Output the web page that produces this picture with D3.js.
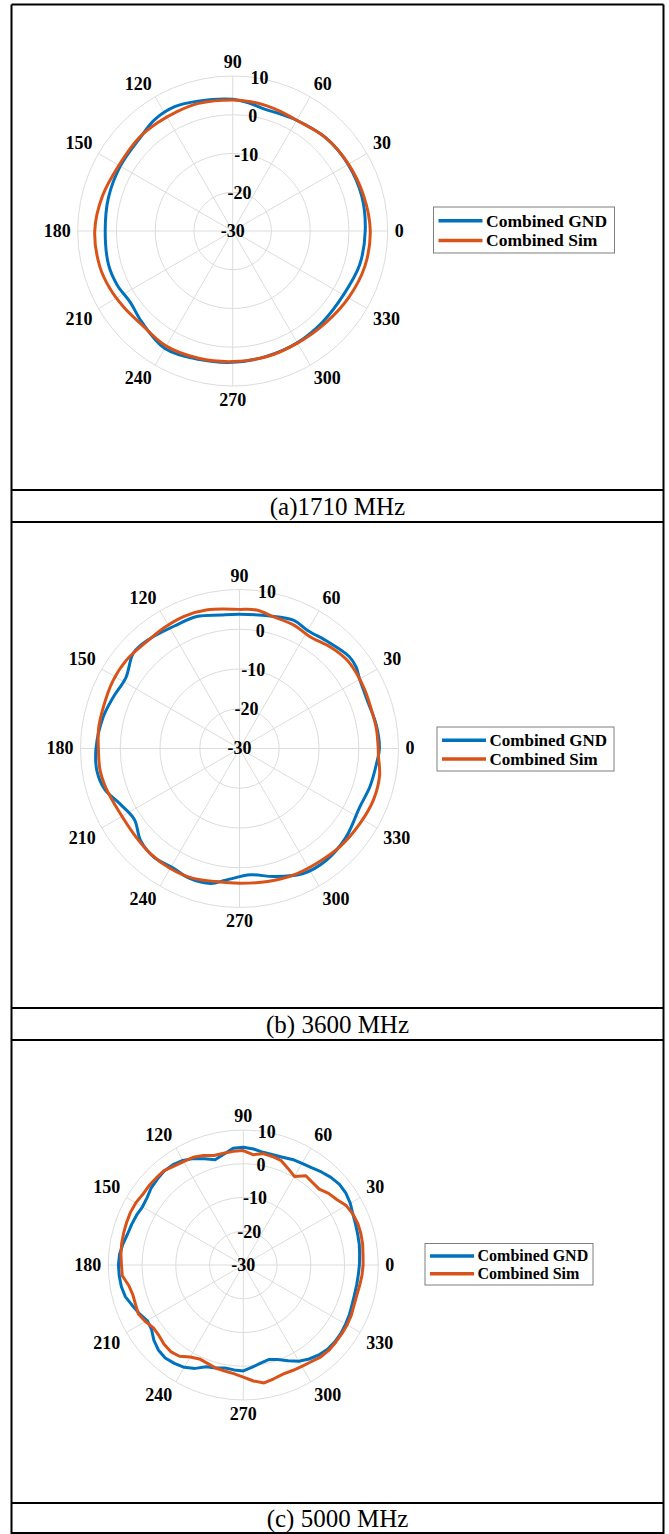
<!DOCTYPE html>
<html>
<head>
<meta charset="utf-8">
<script src="https://cdn.jsdelivr.net/npm/d3@7"></script>
<style>
  body { margin: 0; background: #fff; }
  svg { display: block; }
  text { font-family: "Liberation Serif", "Times New Roman", serif; }
</style>
</head>
<body>
<svg width="669" height="1534"></svg>
<script>
// ---- data (dB vs angle in degrees) ----
var seriesNames = ["Combined GND", "Combined Sim"];
var captions = ["(a)1710 MHz", "(b) 3600 MHz", "(c) 5000 MHz"];
var thetaTicks = [0, 30, 60, 90, 120, 150, 180, 210, 240, 270, 300, 330];
var rTicks = [-30, -20, -10, 0, 10];

// (a) 1710 MHz
var angles1 = [0, 15, 30, 45, 60, 68, 75, 82, 90, 105, 115, 125, 135, 150, 165, 180, 195, 205, 215, 225, 240, 255, 270, 285, 300, 315, 330, 345];
var gnd1 = [4.2, 4.5, 4.4, 4.0, 3.0, 2.6, 2.5, 3.2, 4.0, 4.7, 5.4, 5.1, 3.9, 3.5, 3.2, 2.9, 3.2, 2.9, 2.2, 3.2, 5.0, 4.3, 3.9, 3.5, 3.3, 3.0, 3.0, 3.9];
var sim1 = [5.5, 5.0, 4.5, 4.0, 3.0, 3.2, 3.5, 3.7, 3.8, 4.1, 4.0, 4.0, 4.1, 3.9, 4.8, 5.6, 5.5, 5.0, 4.3, 3.7, 4.3, 4.0, 3.7, 3.6, 3.4, 3.7, 4.5, 5.3];

// (b) 3600 MHz
var angles2 = [0, 10, 20, 30, 35, 40, 50, 60, 67, 77, 90, 98, 108, 118, 130, 138, 148, 158, 167, 180, 189, 197, 205, 214, 223, 232, 241, 249, 258, 264, 275, 285, 297, 308, 320, 334, 344, 354];
var gnd2 = [5.2, 4.9, 4.35, 4.9, 5.8, 6.0, 4.9, 4.3, 5.0, 4.2, 3.75, 3.9, 4.9, 4.9, 5.7, 5.9, 3.7, 4.3, 5.2, 6.1, 6.3, 5.4, 3.1, 1.9, 4.0, 4.8, 4.4, 5.0, 4.7, 3.3, 1.9, 3.35, 5.3, 5.6, 4.9, 3.65, 4.2, 4.7];
var angles2s = [0, 8, 16, 25, 33, 40, 48, 58, 66, 76, 83, 90, 103, 113, 122, 131, 142, 152, 163, 172, 180, 189, 197, 208, 219, 230, 240, 250, 260, 270, 282, 293, 304, 316, 328, 339, 349, 357];
var sim2 = [4.9, 4.8, 4.6, 4.8, 5.0, 5.0, 4.3, 3.25, 3.9, 4.25, 5.1, 5.0, 5.8, 6.05, 5.8, 5.6, 6.1, 6.1, 5.8, 5.8, 5.5, 5.5, 5.0, 4.2, 4.2, 4.7, 4.85, 4.7, 4.0, 3.9, 4.2, 4.6, 4.8, 5.35, 5.7, 6.1, 5.9, 5.0];

// (c) 5000 MHz, 5 degree steps
var angles3 = d3.range(0, 360, 5);
var gnd3 = [4.4, 4.6, 4.9, 5.1, 5.4, 5.8, 6.6, 7.1, 7.2, 6.7, 6.0, 5.2, 4.8, 4.5, 4.0, 3.8, 3.9, 4.5,
            4.9, 4.7, 3.3, 2.3, 3.5, 4.8, 5.8, 6.3, 6.4, 6.0, 5.6, 4.8, 4.5, 4.9, 5.2, 5.5, 6.2, 6.8,
            7.0, 6.9, 6.7, 6.2, 5.0, 4.0, 2.9, 3.2, 4.6, 5.6, 6.0, 5.6, 5.0, 3.8, 2.1, 1.6, 1.0, 1.2,
            1.4, 0.4, -0.5, -1.0, -0.2, 1.3, 2.9, 4.0, 4.8, 5.3, 5.4, 5.3, 5.0, 4.7, 4.3, 4.1, 4.1, 4.2];
var sim3 = [5.5, 5.6, 5.9, 6.05, 6.1, 5.8, 5.2, 3.8, 3.0, 1.8, 1.9, 2.3, 0.3, 1.5, 2.9, 3.3, 3.5, 2.8,
            3.9, 3.8, 3.6, 3.6, 4.5, 5.2, 5.4, 5.8, 6.5, 6.5, 6.5, 6.4, 6.8, 6.9, 6.8, 6.7, 6.6, 6.4,
            6.1, 6.0, 4.5, 3.9, 4.0, 4.3, 3.5, 2.5, 2.6, 3.2, 3.5, 3.0, 1.5, 0.7, 1.0, 1.6, 1.9, 2.3,
            3.2, 4.5, 5.5, 4.9, 4.4, 4.5, 4.7, 5.0, 5.6, 5.8, 5.7, 5.6, 5.5, 5.3, 4.9, 4.8, 5.0, 5.3];

var colors = ["#0072BD", "#D95319"];

var panels = [
  { cx: 232.7, cy: 231, R: 155, series: [[angles1, gnd1], [angles1, sim1]], curve: d3.curveCatmullRomClosed,
    legend: { x: 433.5, y: 207, w: 181, h: 46, fs: 17.5 } },
  { cx: 239.5, cy: 748.5, R: 159, series: [[angles2, gnd2], [angles2s, sim2]], curve: d3.curveCatmullRomClosed,
    legend: { x: 437, y: 727, w: 177, h: 44, fs: 17 } },
  { cx: 243.3, cy: 1265, R: 135, series: [[angles3, gnd3], [angles3, sim3]], curve: d3.curveLinearClosed,
    legend: { x: 425, y: 1243.5, w: 168, h: 41.5, fs: 16 } }
];

var svg = d3.select("svg");
var tickFs = 18, capH = 0.66 * tickFs;

// frame + caption rows
var hLines = [4.5, 490, 522, 1008, 1040, 1503, 1533];
var frame = svg.append("g").attr("stroke", "#000").attr("stroke-width", 2);
hLines.forEach(function (y) {
  frame.append("line").attr("x1", 11.5).attr("x2", 663.5).attr("y1", y).attr("y2", y);
});
frame.append("line").attr("x1", 11.5).attr("x2", 11.5).attr("y1", 4.5).attr("y2", 1534);
frame.append("line").attr("x1", 663.5).attr("x2", 663.5).attr("y1", 4.5).attr("y2", 1534);

var capY = [506, 1024, 1518];
captions.forEach(function (c, i) {
  svg.append("text")
    .attr("x", 337.5).attr("y", capY[i] + 8.5)
    .attr("text-anchor", "middle")
    .style("font-size", "25px")
    .text(c);
});

panels.forEach(function (p) {
  var g = svg.append("g").attr("transform", "translate(" + p.cx + "," + p.cy + ")");
  var r = d3.scaleLinear().domain([-30, 10]).range([0, p.R]);
  var rad = function (a) { return a * Math.PI / 180; };

  // grid
  var grid = g.append("g").attr("fill", "none").attr("stroke", "#dcdcdc").attr("stroke-width", 1);
  rTicks.slice(1).forEach(function (t) {
    grid.append("circle").attr("r", r(t));
  });
  thetaTicks.forEach(function (a) {
    grid.append("line")
      .attr("x2", r(10) * Math.cos(rad(a)))
      .attr("y2", -r(10) * Math.sin(rad(a)));
  });

  // theta tick labels
  thetaTicks.forEach(function (a) {
    var c = Math.cos(rad(a)), s = Math.sin(rad(a));
    var ax = (p.R + 7) * c, ay = -(p.R + 7) * s;
    var anchor = c > 0.01 ? "start" : (c < -0.01 ? "end" : "middle");
    var by = s > 0.01 ? ay - 1 : (s < -0.01 ? ay + capH + 1 : ay + capH / 2);
    g.append("text")
      .attr("x", ax).attr("y", by)
      .attr("text-anchor", anchor)
      .style("font-size", tickFs + "px").style("font-weight", "bold")
      .text(a);
  });

  // r tick labels at 80 degrees
  rTicks.forEach(function (t) {
    g.append("text")
      .attr("x", r(t) * Math.cos(rad(80)))
      .attr("y", -r(t) * Math.sin(rad(80)) + capH / 2)
      .attr("text-anchor", "middle")
      .style("font-size", tickFs + "px").style("font-weight", "bold")
      .text(t);
  });

  // curves
  var line = d3.lineRadial()
    .angle(function (d) { return rad(90 - d[0]); })
    .radius(function (d) { return r(d[1]); })
    .curve(p.curve);
  p.series.forEach(function (s, i) {
    var pts = s[0].map(function (a, k) { return [a, s[1][k]]; });
    g.append("path")
      .attr("d", line(pts))
      .attr("fill", "none")
      .attr("stroke", colors[i])
      .attr("stroke-width", 3)
      .attr("stroke-linejoin", "round");
  });

  // legend
  var L = p.legend;
  var lg = svg.append("g").attr("transform", "translate(" + L.x + "," + L.y + ")");
  lg.append("rect").attr("width", L.w).attr("height", L.h)
    .attr("fill", "#fff").attr("stroke", "#7f7f7f").attr("stroke-width", 1);
  seriesNames.forEach(function (n, i) {
    var yy = L.h * (0.3 + 0.43 * i);
    lg.append("line").attr("x1", 5).attr("x2", 49).attr("y1", yy).attr("y2", yy)
      .attr("stroke", colors[i]).attr("stroke-width", 3.5);
    lg.append("text").attr("x", 52.5).attr("y", yy + L.fs * 0.33)
      .style("font-size", L.fs + "px").style("font-weight", "bold")
      .text(n);
  });
});
</script>
</body>
</html>
